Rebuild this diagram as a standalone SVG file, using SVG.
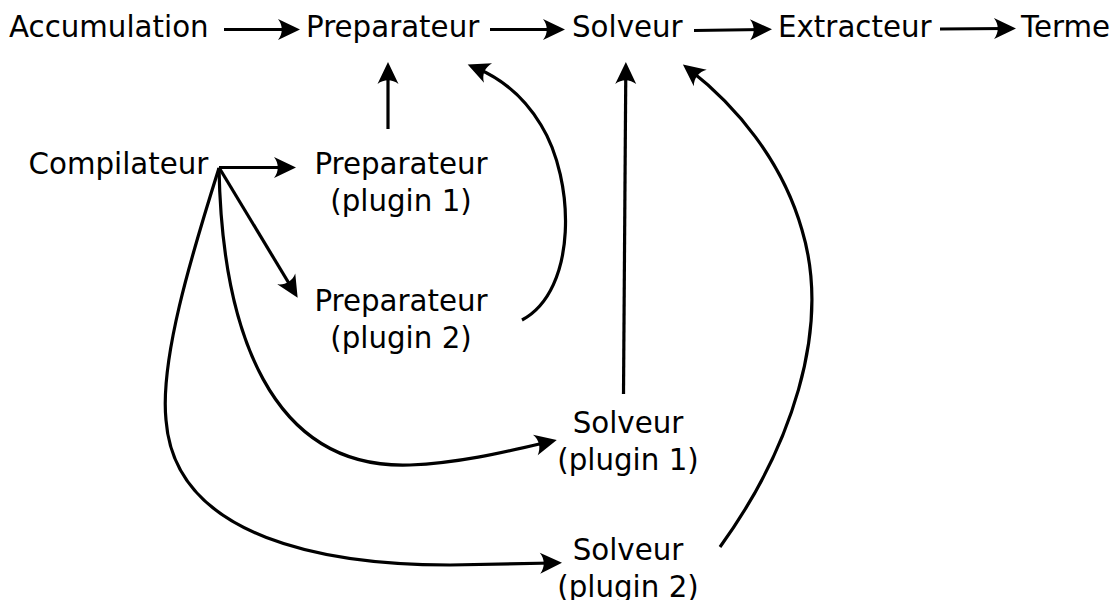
<svg xmlns="http://www.w3.org/2000/svg" width="1116" height="600" viewBox="0 0 1116 600">
<style>
text{font-family:"DejaVu Sans","Liberation Sans",sans-serif;font-size:29.3px;fill:#000}
.c{text-anchor:middle}
.e{fill:none;stroke:#000;stroke-width:3.2;marker-end:url(#ah)}
</style>
<defs>
<marker id="ah" markerUnits="userSpaceOnUse" orient="auto" refX="0" refY="0" markerWidth="40" markerHeight="40" viewBox="-20 -20 40 40" overflow="visible">
<path d="M9,0 L-13,-10.5 C-8,-4 -8,4 -13,10.5 Z" fill="#000"/>
</marker>
</defs>
<rect width="1116" height="600" fill="#fff"/>
<g id="connectors">
<path class="e" d="M224,29.5 H291"/>
<path class="e" d="M490,29.5 H556"/>
<path class="e" d="M694,30.5 L763,29.5"/>
<path class="e" d="M940,29 L1007,28.5"/>
<path class="e" d="M388,129 V71"/>
<path class="e" d="M219,167.5 H287"/>
<path class="e" d="M219,167.5 L293,290"/>
<path class="e" d="M219,168 C222,330 270,470 410,465 C460,463 505,452 548,442"/>
<path class="e" d="M219,168 C190,260 160,360 166,420 C175,540 330,565 450,565 L553,563"/>
<path class="e" d="M522,320 C578,290 575,180 541,125 C526,100 505,80 476,68"/>
<path class="e" d="M623.5,394 L625.8,71"/>
<path class="e" d="M720,547 C790,450 832,330 802,230 C782,160 735,105 690,70"/>
</g>
<g id="accumulation"><text x="9" y="37">Accumulation</text></g>
<g id="preparateur"><text x="306" y="37">Preparateur</text></g>
<g id="solveur"><text x="572" y="37">Solveur</text></g>
<g id="extracteur"><text x="778" y="37">Extracteur</text></g>
<g id="terme"><text x="1021" y="37">Terme</text></g>
<g id="compilateur"><text x="28.5" y="174">Compilateur</text></g>
<g id="preparateur-plugin1"><text class="c" x="401" y="174">Preparateur<tspan x="401" dy="36.5">(plugin 1)</tspan></text></g>
<g id="preparateur-plugin2"><text class="c" x="401" y="311">Preparateur<tspan x="401" dy="36.5">(plugin 2)</tspan></text></g>
<g id="solveur-plugin1"><text class="c" x="628" y="433">Solveur<tspan x="628" dy="36.5">(plugin 1)</tspan></text></g>
<g id="solveur-plugin2"><text class="c" x="628" y="560">Solveur<tspan x="628" dy="36.5">(plugin 2)</tspan></text></g>
</svg>
